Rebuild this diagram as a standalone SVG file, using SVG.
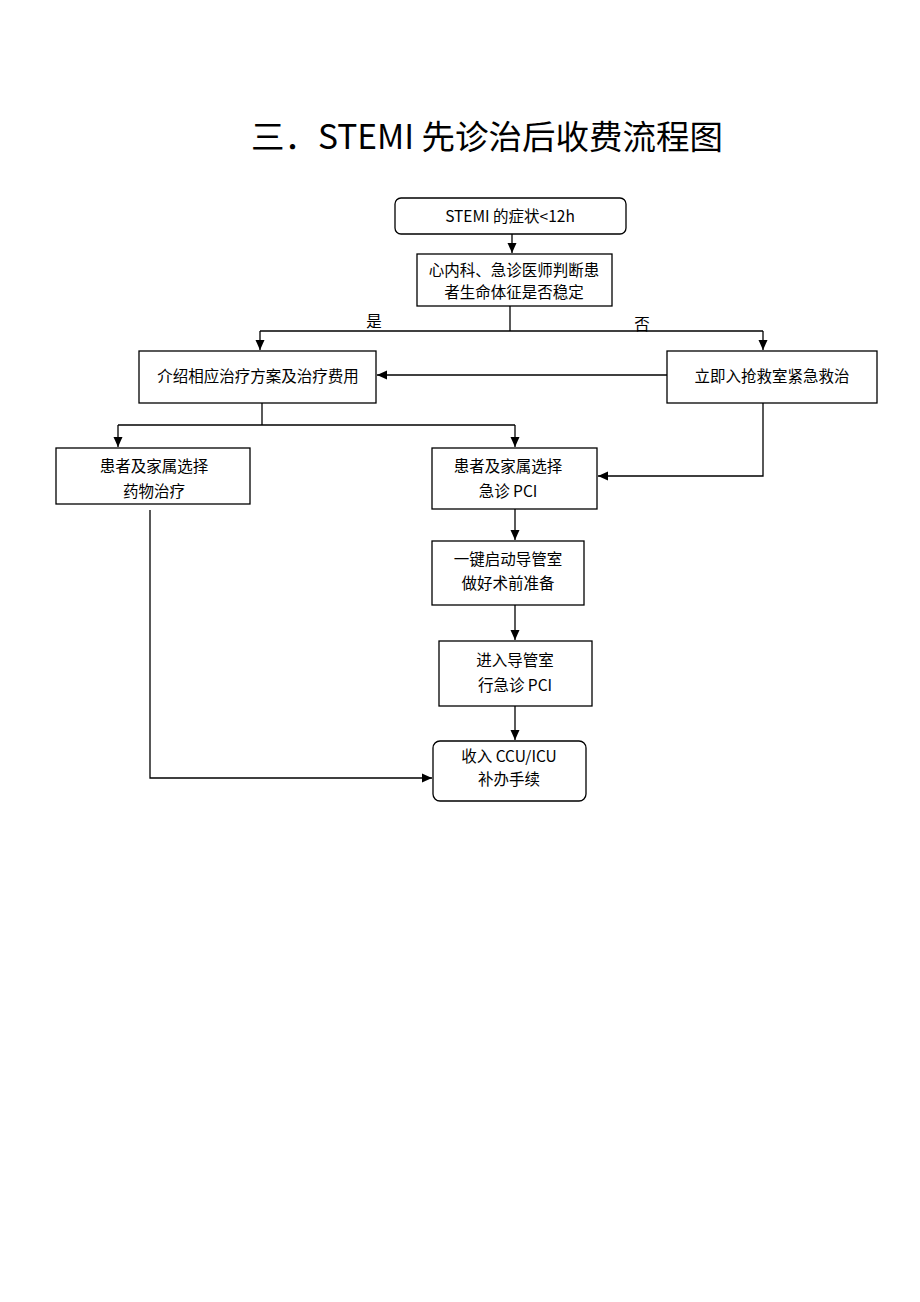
<svg xmlns="http://www.w3.org/2000/svg" width="920" height="1302" viewBox="0 0 920 1302">
<style>
.box{fill:#fff;stroke:#000;stroke-width:1.3}
.t{font-family:"Noto Sans CJK SC","Noto Sans",sans-serif;font-size:15.5px;fill:#000;text-anchor:middle}
.ln{fill:none;stroke:#000;stroke-width:1.3}
.title{font-family:"Noto Sans CJK SC","Noto Sans",sans-serif;font-size:33.5px;fill:#000;text-anchor:middle}
</style>
<defs>
<marker id="ah" markerWidth="11" markerHeight="11" refX="10" refY="5.5" orient="auto" markerUnits="userSpaceOnUse">
<path d="M0,1 L10,5.5 L0,10 Z" fill="#000"/>
</marker>
</defs>
<rect width="920" height="1302" fill="#fff"/>
<text class="title" x="487" y="149">三．STEMI 先诊治后收费流程图</text>

<g id="connectors">
<path class="ln" d="M512,234 V253" marker-end="url(#ah)"/>
<path class="ln" d="M510,306 V331"/>
<path class="ln" d="M260,331 H763"/>
<path class="ln" d="M260,331 V350" marker-end="url(#ah)"/>
<path class="ln" d="M763,331 V350" marker-end="url(#ah)"/>
<path class="ln" d="M667,375 H377" marker-end="url(#ah)"/>
<path class="ln" d="M262,403 V425"/>
<path class="ln" d="M118,425 H515"/>
<path class="ln" d="M118,425 V447" marker-end="url(#ah)"/>
<path class="ln" d="M515,425 V447" marker-end="url(#ah)"/>
<path class="ln" d="M763,403 V476 H598" marker-end="url(#ah)"/>
<path class="ln" d="M515,509 V540" marker-end="url(#ah)"/>
<path class="ln" d="M515,605 V640" marker-end="url(#ah)"/>
<path class="ln" d="M515,706 V740" marker-end="url(#ah)"/>
<path class="ln" d="M150,510 V778 H432" marker-end="url(#ah)"/>
<text class="t" x="374" y="327">是</text>
<text class="t" x="642" y="330">否</text>
</g>

<g id="n1">
<rect class="box" x="395" y="198" width="231" height="36" rx="6"/>
<text class="t" x="510" y="222">STEMI 的症状&lt;12h</text>
</g>
<g id="n2">
<rect class="box" x="417" y="254" width="195" height="52"/>
<text class="t" x="514" y="276">心内科、急诊医师判断患</text>
<text class="t" x="514" y="298">者生命体征是否稳定</text>
</g>
<g id="n3">
<rect class="box" x="139" y="351" width="237" height="52"/>
<text class="t" x="258" y="382">介绍相应治疗方案及治疗费用</text>
</g>
<g id="n4">
<rect class="box" x="667" y="351" width="210" height="52"/>
<text class="t" x="772" y="382">立即入抢救室紧急救治</text>
</g>
<g id="n5">
<rect class="box" x="56" y="448" width="194" height="56"/>
<text class="t" x="154" y="472">患者及家属选择</text>
<text class="t" x="154" y="497">药物治疗</text>
</g>
<g id="n6">
<rect class="box" x="432" y="448" width="165" height="61"/>
<text class="t" x="508" y="472">患者及家属选择</text>
<text class="t" x="508" y="497">急诊 PCI</text>
</g>
<g id="n7">
<rect class="box" x="432" y="541" width="152" height="64"/>
<text class="t" x="508" y="565">一键启动导管室</text>
<text class="t" x="508" y="589">做好术前准备</text>
</g>
<g id="n8">
<rect class="box" x="439" y="641" width="153" height="65"/>
<text class="t" x="515" y="666">进入导管室</text>
<text class="t" x="515" y="691">行急诊 PCI</text>
</g>
<g id="n9">
<rect class="box" x="433" y="741" width="153" height="60" rx="7"/>
<text class="t" x="509" y="762">收入 CCU/ICU</text>
<text class="t" x="509" y="785">补办手续</text>
</g>
</svg>
